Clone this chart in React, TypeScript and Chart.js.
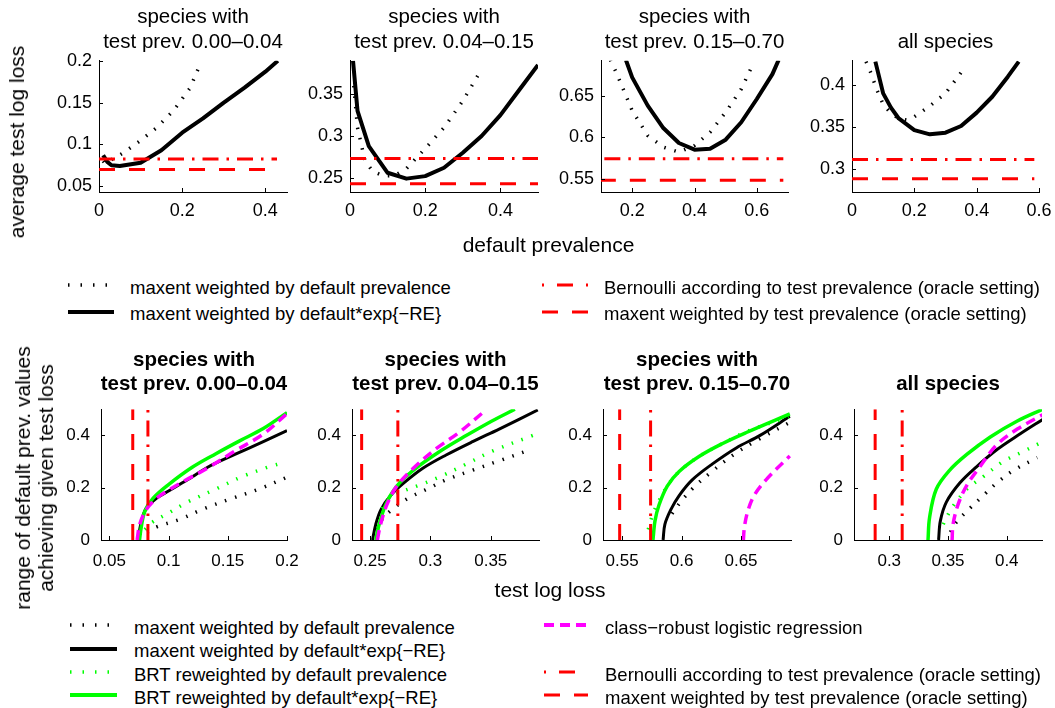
import React, { useEffect, useRef } from 'react';
import { Chart, registerables } from 'chart.js';

Chart.register(...registerables);

const FONT = '"Liberation Sans", Arial, Helvetica, sans-serif';
const BLACK = '#000000';
const RED = '#ff0000';
const GREEN = '#00ff00';
const MAGENTA = '#ff00ff';

type Pt = [number, number];

// ---------- shared reference losses (oracle settings) ----------
const BERNOULLI_LOSS = [0.0826, 0.273, 0.574, 0.311];
const ORACLE_MAXENT_LOSS = [0.0698, 0.243, 0.548, 0.288];
const REF_PREV_MAX = [0.428, 0.5, 0.685, 0.585];

// ---------- titles ----------
const TOP_TITLES = [
  ['species with', 'test prev. 0.00\u20130.04'],
  ['species with', 'test prev. 0.04\u20130.15'],
  ['species with', 'test prev. 0.15\u20130.70'],
  ['all species'],
];

// ---------- top row: average test log loss vs default prevalence ----------
const TOP_X_RANGE: Pt[] = [[0, 0.452], [0, 0.5], [0.1, 0.7], [0, 0.6]];
const TOP_Y_RANGE: Pt[] = [[0.043, 0.2], [0.233, 0.39], [0.534, 0.692], [0.272, 0.429]];
const TOP_X_TICKS = [[0, 0.2, 0.4], [0, 0.2, 0.4], [0.2, 0.4, 0.6], [0, 0.2, 0.4, 0.6]];
const TOP_Y_TICKS = [[0.05, 0.1, 0.15, 0.2], [0.25, 0.3, 0.35], [0.55, 0.6, 0.65], [0.3, 0.35, 0.4]];

const T1_MAXENT_DEF: Pt[] = [[0.01, 0.08], [0.0145, 0.0771], [0.0586, 0.0899], [0.0988, 0.1043], [0.139, 0.1202], [0.179, 0.1403], [0.219, 0.1674], [0.242, 0.1946]];
const T1_MAXENT_EXP: Pt[] = [[0.01, 0.087], [0.02, 0.079], [0.03, 0.075], [0.05, 0.074], [0.1, 0.078], [0.15, 0.093], [0.2, 0.114], [0.25, 0.131], [0.3, 0.15], [0.35, 0.168], [0.4, 0.187], [0.43, 0.2]];

const T2_MAXENT_DEF: Pt[] = [[0.01, 0.36], [0.02, 0.31], [0.04, 0.27], [0.06, 0.258], [0.09, 0.252], [0.12, 0.253], [0.15, 0.261], [0.2, 0.285], [0.25, 0.31], [0.3, 0.342], [0.35, 0.38]];
const T2_MAXENT_EXP: Pt[] = [[0.008, 0.39], [0.02, 0.33], [0.05, 0.288], [0.1, 0.256], [0.15, 0.249], [0.2, 0.252], [0.25, 0.262], [0.3, 0.28], [0.35, 0.3], [0.4, 0.325], [0.45, 0.355], [0.5, 0.385]];

const T3_MAXENT_DEF: Pt[] = [[0.13, 0.693], [0.15, 0.677], [0.2, 0.632], [0.25, 0.602], [0.3, 0.588], [0.35, 0.582], [0.4, 0.59], [0.45, 0.606], [0.5, 0.63], [0.55, 0.658], [0.59, 0.69]];
const T3_MAXENT_EXP: Pt[] = [[0.18, 0.693], [0.2, 0.672], [0.25, 0.638], [0.3, 0.611], [0.35, 0.593], [0.4, 0.585], [0.45, 0.586], [0.5, 0.597], [0.55, 0.618], [0.6, 0.646], [0.65, 0.676], [0.67, 0.693]];

const T4_MAXENT_DEF: Pt[] = [[0.045, 0.428], [0.06, 0.415], [0.08, 0.394], [0.1, 0.377], [0.125, 0.366], [0.15, 0.36], [0.175, 0.358], [0.2, 0.362], [0.25, 0.375], [0.3, 0.39], [0.36, 0.42]];
const T4_MAXENT_EXP: Pt[] = [[0.075, 0.428], [0.1, 0.39], [0.125, 0.373], [0.15, 0.36], [0.2, 0.346], [0.25, 0.341], [0.3, 0.343], [0.35, 0.351], [0.4, 0.367], [0.45, 0.386], [0.5, 0.41], [0.535, 0.428]];

const TOP_MAXENT_DEF = [T1_MAXENT_DEF, T2_MAXENT_DEF, T3_MAXENT_DEF, T4_MAXENT_DEF];
const TOP_MAXENT_EXP = [T1_MAXENT_EXP, T2_MAXENT_EXP, T3_MAXENT_EXP, T4_MAXENT_EXP];

// ---------- bottom row: range of default prev. values vs test log loss ----------
const BOT_X_RANGE: Pt[] = [[0.043, 0.2], [0.235, 0.39], [0.534, 0.692], [0.27, 0.43]];
const BOT_Y_RANGE: Pt = [0, 0.5];
const BOT_X_TICKS = [[0.05, 0.1, 0.15, 0.2], [0.25, 0.3, 0.35], [0.55, 0.6, 0.65], [0.3, 0.35, 0.4]];
const BOT_Y_TICKS = [0, 0.2, 0.4];

const B1_MAXENT_DEF: Pt[] = [[0.082, 0.03], [0.09, 0.05], [0.11, 0.08], [0.13, 0.12], [0.153, 0.158], [0.176, 0.194], [0.2, 0.24]];
const B1_MAXENT_EXP: Pt[] = [[0.0745, 0], [0.0765, 0.06], [0.081, 0.12], [0.09, 0.16], [0.1, 0.187], [0.116, 0.23], [0.133, 0.278], [0.156, 0.327], [0.18, 0.376], [0.2, 0.418]];
const B1_BRT_DEF: Pt[] = [[0.08, 0.04], [0.086, 0.067], [0.1, 0.103], [0.116, 0.145], [0.14, 0.195], [0.162, 0.242], [0.185, 0.28], [0.198, 0.297]];
const B1_BRT_EXP: Pt[] = [[0.0755, 0], [0.077, 0.05], [0.08, 0.11], [0.087, 0.16], [0.1, 0.212], [0.12, 0.278], [0.14, 0.33], [0.16, 0.379], [0.18, 0.426], [0.2, 0.487]];
const B1_ROBUST: Pt[] = [[0.0735, 0], [0.0757, 0.06], [0.081, 0.115], [0.09, 0.16], [0.1, 0.19], [0.113, 0.225], [0.133, 0.275], [0.156, 0.34], [0.18, 0.405], [0.2, 0.483]];

const B2_MAXENT_DEF: Pt[] = [[0.256, 0.04], [0.259, 0.073], [0.267, 0.112], [0.281, 0.158], [0.297, 0.194], [0.313, 0.23], [0.335, 0.267], [0.357, 0.303], [0.383, 0.345]];
const B2_MAXENT_EXP: Pt[] = [[0.252, 0], [0.2547, 0.06], [0.259, 0.116], [0.267, 0.17], [0.278, 0.218], [0.294, 0.275], [0.313, 0.325], [0.335, 0.376], [0.357, 0.424], [0.389, 0.497]];
const B2_BRT_DEF: Pt[] = [[0.26, 0.12], [0.264, 0.152], [0.275, 0.182], [0.291, 0.21], [0.308, 0.242], [0.33, 0.291], [0.351, 0.339], [0.385, 0.4]];
const B2_BRT_EXP: Pt[] = [[0.2547, 0], [0.2575, 0.06], [0.263, 0.136], [0.272, 0.205], [0.286, 0.267], [0.308, 0.339], [0.33, 0.4], [0.351, 0.455], [0.37, 0.5]];
const B2_ROBUST: Pt[] = [[0.256, 0], [0.2587, 0.06], [0.264, 0.136], [0.272, 0.205], [0.286, 0.275], [0.305, 0.35], [0.324, 0.412], [0.346, 0.497]];

const B3_MAXENT_DEF: Pt[] = [[0.592, 0.1], [0.6, 0.15], [0.61, 0.2], [0.625, 0.26], [0.645, 0.33], [0.665, 0.385], [0.691, 0.45]];
const B3_MAXENT_EXP: Pt[] = [[0.5845, 0], [0.586, 0.06], [0.591, 0.116], [0.598, 0.17], [0.609, 0.23], [0.626, 0.291], [0.646, 0.352], [0.666, 0.4], [0.691, 0.473]];
const B3_BRT_DEF: Pt[] = [[0.572, 0.04], [0.576, 0.1], [0.581, 0.15], [0.59, 0.22], [0.6, 0.27], [0.615, 0.32], [0.635, 0.37], [0.655, 0.415], [0.69, 0.47]];
const B3_BRT_EXP: Pt[] = [[0.576, 0], [0.5777, 0.073], [0.581, 0.133], [0.588, 0.206], [0.598, 0.262], [0.615, 0.32], [0.635, 0.37], [0.654, 0.41], [0.691, 0.482]];
const B3_ROBUST: Pt[] = [[0.652, 0], [0.6528, 0.048], [0.6556, 0.109], [0.661, 0.17], [0.671, 0.23], [0.691, 0.321]];

const B4_MAXENT_DEF: Pt[] = [[0.352, 0.03], [0.357, 0.067], [0.3686, 0.121], [0.38, 0.17], [0.3915, 0.218], [0.406, 0.267], [0.426, 0.315]];
const B4_MAXENT_EXP: Pt[] = [[0.342, 0], [0.3435, 0.073], [0.3486, 0.145], [0.36, 0.218], [0.374, 0.279], [0.3915, 0.345], [0.4115, 0.406], [0.4306, 0.461]];
const B4_BRT_DEF: Pt[] = [[0.346, 0.06], [0.3486, 0.085], [0.354, 0.127], [0.366, 0.194], [0.38, 0.242], [0.397, 0.3], [0.414, 0.338], [0.428, 0.37]];
const B4_BRT_EXP: Pt[] = [[0.333, 0], [0.3343, 0.085], [0.34, 0.194], [0.3515, 0.267], [0.366, 0.327], [0.386, 0.394], [0.409, 0.455], [0.4306, 0.5]];
const B4_ROBUST: Pt[] = [[0.3535, 0], [0.3543, 0.06], [0.3586, 0.136], [0.366, 0.209], [0.377, 0.279], [0.3915, 0.364], [0.409, 0.424], [0.4306, 0.479]];

const BOT_MAXENT_DEF = [B1_MAXENT_DEF, B2_MAXENT_DEF, B3_MAXENT_DEF, B4_MAXENT_DEF];
const BOT_MAXENT_EXP = [B1_MAXENT_EXP, B2_MAXENT_EXP, B3_MAXENT_EXP, B4_MAXENT_EXP];
const BOT_BRT_DEF = [B1_BRT_DEF, B2_BRT_DEF, B3_BRT_DEF, B4_BRT_DEF];
const BOT_BRT_EXP = [B1_BRT_EXP, B2_BRT_EXP, B3_BRT_EXP, B4_BRT_EXP];
const BOT_ROBUST = [B1_ROBUST, B2_ROBUST, B3_ROBUST, B4_ROBUST];

// ---------- legends ----------
const TOP_LEGEND_LEFT = ['maxent weighted by default prevalence', 'maxent weighted by default*exp{\u2212RE}'];
const TOP_LEGEND_RIGHT = ['Bernoulli according to test prevalence (oracle setting)', 'maxent weighted by test prevalence (oracle setting)'];
const BOT_LEGEND_LEFT = ['maxent weighted by default prevalence', 'maxent weighted by default*exp{\u2212RE}', 'BRT reweighted by default prevalence', 'BRT reweighted by default*exp{\u2212RE}'];
const BOT_LEGEND_RIGHT = ['class\u2212robust logistic regression', '', 'Bernoulli according to test prevalence (oracle setting)', 'maxent weighted by test prevalence (oracle setting)'];

// ---------- styles ----------
const DOT_DASH = [1.5, 9];
const DASHDOT = [16, 8, 2.5, 8];
const DASHED = [16, 14];
const MAG_DASH = [10, 6];

// ---------- layout ----------
const TOP_RECTS = [
  { l: 99, w: 188 }, { l: 350, w: 188 }, { l: 601, w: 187 }, { l: 852, w: 187 },
];
const TOP_T = 57, TOP_H = 135;
const BOT_RECTS = [
  { l: 101, w: 186 }, { l: 352, w: 187 }, { l: 603, w: 188 }, { l: 854, w: 188 },
];
const BOT_T = 402, BOT_H = 138;

const LY = 75, PAD_T = 14, PAD_R = 26, HX = 42;

const fmt = (v: number) => String(parseFloat(Number(v).toFixed(4)));

const inwardTicks = {
  id: 'inwardTicks',
  afterDatasetsDraw(chart: any) {
    const { ctx, chartArea } = chart;
    const xs = chart.scales.x, ys = chart.scales.y;
    ctx.save();
    ctx.strokeStyle = '#000';
    ctx.lineWidth = 1;
    ctx.setLineDash([]);
    ctx.beginPath();
    xs.ticks.forEach((t: any) => {
      const p = Math.round(xs.getPixelForValue(t.value)) + 0.5;
      ctx.moveTo(p, chartArea.bottom);
      ctx.lineTo(p, chartArea.bottom - 4);
    });
    ys.ticks.forEach((t: any) => {
      const p = Math.round(ys.getPixelForValue(t.value)) + 0.5;
      ctx.moveTo(chartArea.left, p);
      ctx.lineTo(chartArea.left + 4, p);
    });
    ctx.stroke();
    ctx.restore();
  },
};

type Series = { pts: Pt[]; color: string; width: number; dash: number[]; smooth?: boolean };
type Spec = {
  l: number; t: number; w: number; h: number;
  xr: Pt; yr: Pt; xt: number[]; yt: number[];
  tickSize: number; tickPadX: number; tickPadY: number;
  series: Series[];
};

function Panel({ spec }: { spec: Spec }) {
  const ref = useRef<HTMLCanvasElement>(null);
  const W = LY + spec.w + PAD_R;
  const H = PAD_T + spec.h + HX;
  useEffect(() => {
    const font = { family: FONT, size: spec.tickSize };
    const chart = new Chart(ref.current as HTMLCanvasElement, {
      type: 'line',
      data: {
        datasets: spec.series.map((s) => ({
          data: s.pts.map(([x, y]) => ({ x, y })),
          borderColor: s.color,
          backgroundColor: s.color,
          borderWidth: s.width,
          borderDash: s.dash,
          borderCapStyle: 'butt',
          borderJoinStyle: 'round',
          pointRadius: 0,
          fill: false,
          tension: s.smooth ? 0.35 : 0,
        })) as any,
      },
      options: {
        responsive: false,
        maintainAspectRatio: false,
        animation: false,
        devicePixelRatio: 1,
        layout: { padding: { top: PAD_T, right: PAD_R, left: 0, bottom: 0 }, autoPadding: false } as any,
        plugins: { legend: { display: false }, tooltip: { enabled: false }, title: { display: false } },
        scales: {
          x: {
            type: 'linear',
            min: spec.xr[0],
            max: spec.xr[1],
            grid: { display: false, drawTicks: false },
            border: { display: true, color: '#000', width: 1 },
            ticks: { font, color: '#000', padding: spec.tickPadX, maxRotation: 0, autoSkip: false, callback: (v: any) => fmt(v) },
            afterBuildTicks: (ax: any) => { ax.ticks = spec.xt.map((v) => ({ value: v })); },
            afterFit: (ax: any) => { ax.height = HX; },
          },
          y: {
            type: 'linear',
            min: spec.yr[0],
            max: spec.yr[1],
            grid: { display: false, drawTicks: false },
            border: { display: true, color: '#000', width: 1 },
            ticks: { font, color: '#000', padding: spec.tickPadY, autoSkip: false, callback: (v: any) => fmt(v) },
            afterBuildTicks: (ax: any) => { ax.ticks = spec.yt.map((v) => ({ value: v })); },
            afterFit: (ax: any) => { ax.width = LY; },
          },
        },
      } as any,
      plugins: [inwardTicks as any],
    });
    return () => chart.destroy();
  }, []);
  return (
    <canvas
      ref={ref}
      width={W}
      height={H}
      style={{ position: 'absolute', left: spec.l - LY, top: spec.t - PAD_T, width: W, height: H }}
    />
  );
}

function topSpec(i: number): Spec {
  const r = TOP_RECTS[i];
  const x0 = 0;
  const x1 = REF_PREV_MAX[i];
  return {
    l: r.l, t: TOP_T, w: r.w, h: TOP_H,
    xr: TOP_X_RANGE[i], yr: TOP_Y_RANGE[i], xt: TOP_X_TICKS[i], yt: TOP_Y_TICKS[i],
    tickSize: 18, tickPadX: 8, tickPadY: 7,
    series: [
      { pts: [[x0, ORACLE_MAXENT_LOSS[i]], [x1, ORACLE_MAXENT_LOSS[i]]], color: RED, width: 3, dash: DASHED },
      { pts: [[x0, BERNOULLI_LOSS[i]], [x1, BERNOULLI_LOSS[i]]], color: RED, width: 3, dash: DASHDOT },
      { pts: TOP_MAXENT_EXP[i], color: BLACK, width: 4, dash: [] },
      { pts: TOP_MAXENT_DEF[i], color: BLACK, width: 3.5, dash: DOT_DASH },
    ],
  };
}

function botSpec(i: number): Spec {
  const r = BOT_RECTS[i];
  return {
    l: r.l, t: BOT_T, w: r.w, h: BOT_H,
    xr: BOT_X_RANGE[i], yr: BOT_Y_RANGE, xt: BOT_X_TICKS[i], yt: BOT_Y_TICKS,
    tickSize: 17, tickPadX: 11, tickPadY: 11,
    series: [
      { pts: [[ORACLE_MAXENT_LOSS[i], 0], [ORACLE_MAXENT_LOSS[i], 0.5]], color: RED, width: 3, dash: DASHED },
      { pts: [[BERNOULLI_LOSS[i], 0], [BERNOULLI_LOSS[i], 0.5]], color: RED, width: 3, dash: DASHDOT },
      { pts: BOT_ROBUST[i], color: MAGENTA, width: 3.5, dash: MAG_DASH, smooth: true },
      { pts: BOT_BRT_EXP[i], color: GREEN, width: 3.5, dash: [], smooth: true },
      { pts: BOT_BRT_DEF[i], color: GREEN, width: 3.5, dash: DOT_DASH, smooth: true },
      { pts: BOT_MAXENT_EXP[i], color: BLACK, width: 3, dash: [], smooth: true },
      { pts: BOT_MAXENT_DEF[i], color: BLACK, width: 3.5, dash: DOT_DASH, smooth: true },
    ],
  };
}

const textBase: React.CSSProperties = {
  position: 'absolute',
  fontFamily: FONT,
  color: '#000',
  whiteSpace: 'nowrap',
};

function Title({ cx, cy, lines, size, bold, lh }: { cx: number; cy: number; lines: string[]; size: number; bold?: boolean; lh: number }) {
  // cy = center of the last line
  const top = cy - lh / 2 - (lines.length - 1) * lh;
  return (
    <div style={{ ...textBase, left: cx, top, transform: 'translateX(-50%)', fontSize: size, lineHeight: lh + 'px', textAlign: 'center', fontWeight: bold ? 'bold' : 'normal' }}>
      {lines.map((s, k) => <div key={k}>{s}</div>)}
    </div>
  );
}

type LegStyle = { color: string; width: number; dash: string };
function LegendItem({ x1, x2, tx, y, label, st }: { x1: number; x2: number; tx: number; y: number; label: string; st: LegStyle | null }) {
  return (
    <>
      {st && (
        <svg style={{ position: 'absolute', left: x1, top: y - 6, overflow: 'visible' }} width={x2 - x1} height={12}>
          <line x1={0} y1={6} x2={x2 - x1} y2={6} stroke={st.color} strokeWidth={st.width} strokeDasharray={st.dash} />
        </svg>
      )}
      {label && (
        <div style={{ ...textBase, left: tx, top: y + 2.5 - 11, fontSize: 18.5, lineHeight: '22px' }}>{label}</div>
      )}
    </>
  );
}

const L_DOT: LegStyle = { color: BLACK, width: 3.5, dash: '1.5 11' };
const L_SOLID: LegStyle = { color: BLACK, width: 4, dash: '' };
const L_GDOT: LegStyle = { color: GREEN, width: 3.5, dash: '1.5 11' };
const L_GSOLID: LegStyle = { color: GREEN, width: 4, dash: '' };
const L_MAG: LegStyle = { color: MAGENTA, width: 4, dash: '10 6' };
const L_DASHDOT: LegStyle = { color: RED, width: 3, dash: '2 13 16 13' };
const L_DASHED: LegStyle = { color: RED, width: 3, dash: '16 14' };

export default function App() {
  const tops = [0, 1, 2, 3].map(topSpec);
  const bots = [0, 1, 2, 3].map(botSpec);
  const topRows = [285, 311.5];
  const botRows = [625, 648.5, 672, 695];
  return (
    <div style={{ position: 'absolute', left: 0, top: 0, width: 1055, height: 708, background: '#fff', overflow: 'hidden' }}>
      {tops.map((s, i) => <Panel key={'t' + i} spec={s} />)}
      {bots.map((s, i) => <Panel key={'b' + i} spec={s} />)}

      {TOP_TITLES.map((lines, i) => (
        <Title key={'tt' + i} cx={TOP_RECTS[i].l + TOP_RECTS[i].w / 2} cy={40} lines={lines} size={20.5} lh={25} />
      ))}
      {TOP_TITLES.map((lines, i) => (
        <Title key={'bt' + i} cx={BOT_RECTS[i].l + BOT_RECTS[i].w / 2} cy={382.5} lines={lines} size={20.5} lh={23.5} bold />
      ))}

      <div style={{ ...textBase, left: 17, top: 142, fontSize: 21, lineHeight: '24px', transform: 'translate(-50%,-50%) rotate(-90deg)' }}>
        average test log loss
      </div>
      <div style={{ ...textBase, left: 548.5, top: 245, fontSize: 21, lineHeight: '24px', transform: 'translate(-50%,-50%)' }}>
        default prevalence
      </div>

      <div style={{ ...textBase, left: 34, top: 478, fontSize: 21, lineHeight: '23px', textAlign: 'center', transform: 'translate(-50%,-50%) rotate(-90deg)' }}>
        <div>range of default prev. values</div>
        <div>achieving given test loss</div>
      </div>
      <div style={{ ...textBase, left: 550, top: 590, fontSize: 21, lineHeight: '24px', transform: 'translate(-50%,-50%)' }}>
        test log loss
      </div>

      <LegendItem x1={68} x2={114} tx={130} y={topRows[0]} label={TOP_LEGEND_LEFT[0]} st={L_DOT} />
      <LegendItem x1={68} x2={114} tx={130} y={topRows[1]} label={TOP_LEGEND_LEFT[1]} st={L_SOLID} />
      <LegendItem x1={542} x2={589} tx={604} y={topRows[0]} label={TOP_LEGEND_RIGHT[0]} st={L_DASHDOT} />
      <LegendItem x1={542} x2={589} tx={604} y={topRows[1]} label={TOP_LEGEND_RIGHT[1]} st={L_DASHED} />

      <LegendItem x1={70} x2={117} tx={134} y={botRows[0]} label={BOT_LEGEND_LEFT[0]} st={L_DOT} />
      <LegendItem x1={70} x2={117} tx={134} y={botRows[1]} label={BOT_LEGEND_LEFT[1]} st={L_SOLID} />
      <LegendItem x1={70} x2={117} tx={134} y={botRows[2]} label={BOT_LEGEND_LEFT[2]} st={L_GDOT} />
      <LegendItem x1={70} x2={117} tx={134} y={botRows[3]} label={BOT_LEGEND_LEFT[3]} st={L_GSOLID} />
      <LegendItem x1={544} x2={588} tx={605} y={botRows[0]} label={BOT_LEGEND_RIGHT[0]} st={L_MAG} />
      <LegendItem x1={544} x2={588} tx={605} y={botRows[2]} label={BOT_LEGEND_RIGHT[2]} st={L_DASHDOT} />
      <LegendItem x1={544} x2={588} tx={605} y={botRows[3]} label={BOT_LEGEND_RIGHT[3]} st={L_DASHED} />
    </div>
  );
}
